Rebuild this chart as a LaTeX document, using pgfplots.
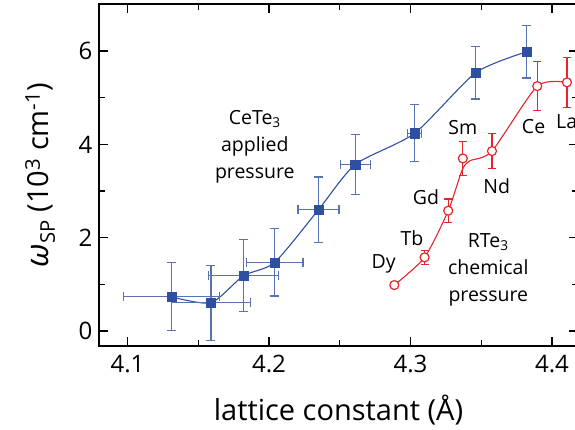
\documentclass[border=0pt]{standalone}
\usepackage{fontspec}
\setmainfont{Open Sans}
\usepackage{pgfplots}
\usepackage{pgfplotstable}
\pgfplotsset{compat=1.18}

\definecolor{pblue}{RGB}{47,79,160}
\definecolor{pred}{RGB}{232,35,43}

% CeTe3 under applied pressure
\pgfplotstableread{
x      y      ex      ey
4.131  0.735  0.034   0.73
4.159  0.606  0.028   0.80
4.182  1.185  0.0245  0.77
4.204  1.47   0.020   0.72
4.235  2.60   0.0145  0.70
4.261  3.57   0.0107  0.64
4.303  4.24   0.005   0.61
4.346  5.535  0       0.56
4.382  5.985  0       0.56
}\cete

% RTe3 series (chemical pressure)
\pgfplotstableread{
x       y      ey
4.2886  0.986  0.05
4.310   1.58   0.15
4.3267  2.58   0.25
4.337   3.70   0.36
4.3576  3.857  0.38
4.3896  5.25   0.52
4.4106  5.33   0.53
}\rte

% guide line for the RTe3 series (a smoothed trend, not through every point)
\pgfplotstableread{
x       y
4.2886  0.986
4.310   1.58
4.3267  2.58
4.3365  3.45
4.3420  3.65
4.3576  3.857
4.3896  5.25
4.4106  5.33
}\rtefit

\begin{document}
\begin{tikzpicture}
\begin{axis}[
  name=ax,
  scale only axis,
  width=479pt, height=342pt,
  xmin=4.0799, xmax=4.4184,
  ymin=-0.32, ymax=7.01,
  xtick={4.1,4.2,4.3,4.4},
  ytick={0,2,4,6},
  minor x tick num=1,
  minor y tick num=1,
  tick align=inside,
  major tick length=9pt,
  minor tick length=6pt,
  axis line style={line width=1.6pt},
  every tick/.style={line width=1.3pt, black},
  /pgf/number format/assume math mode=true,
  /pgf/number format/fixed,
  /pgf/number format/precision=1,
  ticklabel style={font=\fontsize{24}{28}\selectfont},
  xticklabel style={yshift=-6pt},
  yticklabel style={xshift=-3pt},
  every axis x label/.style={at={(axis description cs:0.5,-0.187)}, anchor=center},
  every axis y label/.style={at={(axis description cs:-0.123,0.5)}, rotate=90, anchor=center},
  label style={font=\fontsize{29}{34}\selectfont},
  xlabel={lattice constant (Å)},
  ylabel={{\fontsize{32}{36}\selectfont\itshape ω}\textsubscript{SP} (10\textsuperscript{3} cm\textsuperscript{-1})},
  clip=false,
]
% guide curves
\addplot[pblue, line width=1.1pt, smooth, tension=0.4, no marks] table[x=x,y=y] {\cete};
\addplot[pred, line width=1.1pt, smooth, tension=0.4, no marks] table[x=x,y=y] {\rtefit};

% data with error bars
\addplot[pblue, only marks, mark=square*, mark size=4.6pt,
  mark options={fill=pblue, draw=pblue},
  error bars/.cd, x dir=both, x explicit, y dir=both, y explicit,
  error bar style={line width=1.2pt, pblue!80},
  error mark options={rotate=90, line width=1.2pt, mark size=4.5pt, pblue!80}]
  table[x=x, y=y, x error=ex, y error=ey] {\cete};
\addplot[pred, only marks, mark=*, mark size=4.5pt,
  mark options={fill=white, draw=pred, line width=1.2pt},
  error bars/.cd, y dir=both, y explicit,
  error bar style={line width=1.2pt, pred},
  error mark options={rotate=90, line width=1.2pt, mark size=4pt, pred}]
  table[x=x, y=y, y error=ey] {\rte};

% annotations
\begin{scope}[every node/.style={font=\fontsize{19.5}{27}\selectfont, align=center}]
\node at (axis cs:4.19,3.96) {CeTe\textsubscript{3}\\applied\\pressure};
\node at (axis cs:4.355,1.31) {RTe\textsubscript{3}\\chemical\\pressure};
\node at (axis cs:4.281,1.45) {Dy};
\node at (axis cs:4.301,1.99) {Tb};
\node at (axis cs:4.311,2.88) {Gd};
\node at (axis cs:4.337,4.36) {Sm};
\node at (axis cs:4.361,3.11) {Nd};
\node at (axis cs:4.387,4.39) {Ce};
\node[anchor=west, inner sep=0pt] at (axis cs:4.4028,4.48) {La};
\end{scope}
\end{axis}
\pgfresetboundingbox
\useasboundingbox ([xshift=-99pt,yshift=-84pt]ax.south west) rectangle ([xshift=-3pt,yshift=4pt]ax.north east);
\end{tikzpicture}
\end{document}
